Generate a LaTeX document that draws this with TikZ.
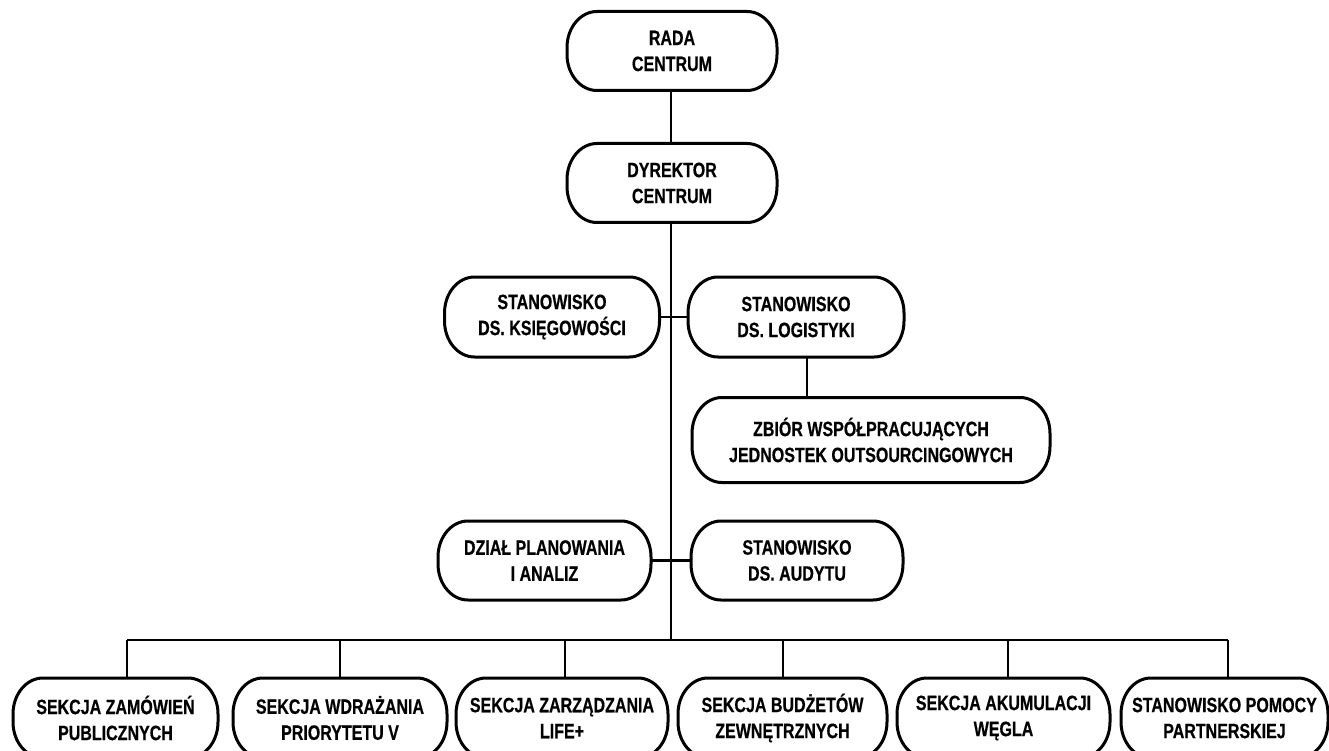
\documentclass[tikz,border=0pt]{standalone}
\usepackage{fontspec}
\setmainfont{Liberation Sans}[FakeStretch=0.77,BoldFeatures={FakeStretch=0.77,FakeBold=0.5}]
\begin{document}
\begin{tikzpicture}[x=1pt,y=-1pt,
  box/.style={align=center,inner sep=0pt,outer sep=0pt,minimum height=79pt,
    font=\fontsize{20.8}{26}\selectfont\bfseries},
  outline/.style={draw=black,line width=3pt,line join=round},
  conn/.style={draw=black,line width=2.8pt}]
\useasboundingbox (0,0) rectangle (1329,751);
\node[box,minimum width=210pt] (rada) at (672,51) {RADA\\CENTRUM};
\node[box,minimum width=210pt] (dyr) at (672,183) {DYREKTOR\\CENTRUM};
\node[box,minimum width=215pt,minimum height=80pt] (ks) at (552,317) {STANOWISKO\\DS. KSIĘGOWOŚCI};
\node[box,minimum width=216pt,minimum height=80pt] (log) at (796,317) {STANOWISKO\\DS. LOGISTYKI};
\node[box,minimum width=358pt,minimum height=85pt] (zb) at (871,440) {ZBIÓR WSPÓŁPRACUJĄCYCH\\JEDNOSTEK OUTSOURCINGOWYCH};
\node[box,minimum width=213pt] (dz) at (544.5,560.5) {DZIAŁ PLANOWANIA\\I ANALIZ};
\node[box,minimum width=212pt] (au) at (797,560.5) {STANOWISKO\\DS. AUDYTU};
\node[box,minimum width=205pt,minimum height=80pt] (b1) at (115.5,718) {SEKCJA ZAMÓWIEŃ\\PUBLICZNYCH};
\node[box,minimum width=214pt,minimum height=80pt] (b2) at (340,718) {SEKCJA WDRAŻANIA\\PRIORYTETU V};
\node[box,minimum width=212pt,minimum height=80pt] (b3) at (562,718) {SEKCJA ZARZĄDZANIA\\LIFE+};
\node[box,minimum width=209pt,minimum height=80pt] (b4) at (782.5,718) {SEKCJA BUDŻETÓW\\ZEWNĘTRZNYCH};
\node[box,minimum width=213pt,minimum height=80pt] (b5) at (1003.5,718) {SEKCJA AKUMULACJI\\WĘGLA};
\node[box,minimum width=207pt,minimum height=80pt] (b6) at (1224.5,718) {STANOWISKO POMOCY\\PARTNERSKIEJ};
% outlines with elliptical corners
\foreach \n in {rada,dyr,ks,log,zb,dz,au,b1,b2,b3,b4,b5,b6}{
  \draw[outline] ([xshift=30pt]\n.north west) -- ([xshift=-30pt]\n.north east)
    arc[start angle=90,end angle=0,x radius=30pt,y radius=36pt]
    -- ([yshift=36pt]\n.south east)
    arc[start angle=0,end angle=-90,x radius=30pt,y radius=36pt]
    -- ([xshift=30pt]\n.south west)
    arc[start angle=270,end angle=180,x radius=30pt,y radius=36pt]
    -- ([yshift=-36pt]\n.north west)
    arc[start angle=180,end angle=90,x radius=30pt,y radius=36pt] -- cycle;
}
% connectors
\coordinate (bus) at (671,640);
\coordinate (lz) at (807,0);
\path[conn] (rada.south -| 671,0) -- (dyr.north -| 671,0);
\path[conn] (dyr.south -| bus) -- (bus);
\path[conn] (ks.east) -- (log.west);
\path[conn] (dz.east) -- (au.west);
\path[conn] (log.south -| lz) -- (zb.north -| lz);
\coordinate (d1) at (127,640);
\coordinate (d2) at (340,640);
\coordinate (d3) at (565,640);
\coordinate (d4) at (783,640);
\coordinate (d5) at (1008,640);
\coordinate (d6) at (1228,640);
\path[conn] (d1) -- (d6);
\path[conn] (d1) -- (b1.north -| d1);
\path[conn] (d2) -- (b2.north -| d2);
\path[conn] (d3) -- (b3.north -| d3);
\path[conn] (d4) -- (b4.north -| d4);
\path[conn] (d5) -- (b5.north -| d5);
\path[conn] (d6) -- (b6.north -| d6);
\end{tikzpicture}
\end{document}
